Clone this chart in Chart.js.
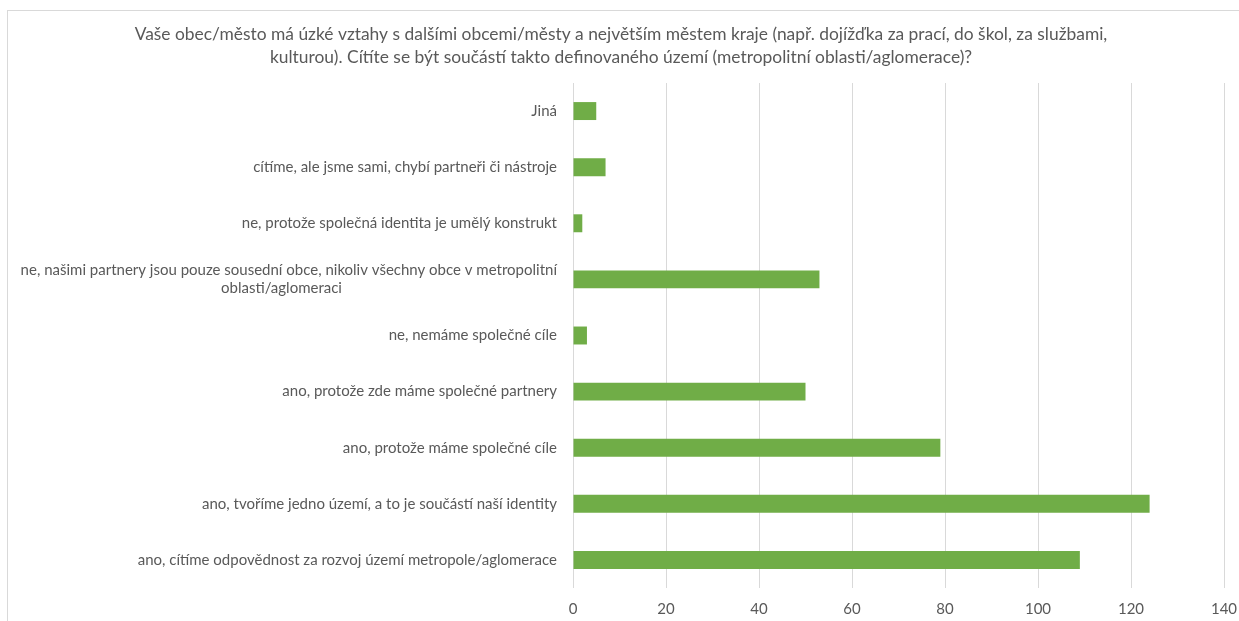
<!DOCTYPE html>
<html>
<head>
<meta charset="utf-8">
<script src="https://cdn.jsdelivr.net/npm/chart.js@4"></script>
<style>
  html, body { margin: 0; padding: 0; background: #ffffff; }
  #wrap { position: relative; width: 1239px; height: 621px; overflow: hidden; }
  #frame { position: absolute; left: 7px; top: 10px; width: 1300px; height: 700px;
           border-left: 1px solid #d9d9d9; border-top: 1px solid #d9d9d9; }
  canvas { position: absolute; left: 0; top: 0; }
</style>
</head>
<body>
<div id="wrap">
  <div id="frame"></div>
  <canvas id="c" width="1239" height="621"></canvas>
</div>
<script>
// Answer categories, top to bottom
const categories = [
  'Jiná',
  'cítíme, ale jsme sami, chybí partneři či nástroje',
  'ne, protože společná identita je umělý konstrukt',
  ['ne, našimi partnery jsou pouze sousední obce, nikoliv všechny obce v metropolitní',
   'oblasti/aglomeraci' + ' '.repeat(56)],
  'ne, nemáme společné cíle',
  'ano, protože zde máme společné partnery',
  'ano, protože máme společné cíle',
  'ano, tvoříme jedno území, a to je součástí naší identity',
  'ano, cítíme odpovědnost za rozvoj území metropole/aglomerace'
];

// Number of responses per category
const responses = [5, 7, 2, 53, 3, 50, 79, 124, 109];

const titleLines = [
  'Vaše obec/město má úzké vztahy s dalšími obcemi/městy a největším městem kraje (např. dojížďka za prací, do škol, za službami,',
  'kulturou). Cítíte se být součástí takto definovaného území (metropolitní oblasti/aglomerace)?'
];

const axisMin = 0, axisMax = 140, axisStep = 20;

const textColor = '#595959';
const gridColor = '#d9d9d9';
const barColor = '#70ad47';
const fontFamily = 'Lato, "Open Sans", sans-serif';

new Chart(document.getElementById('c'), {
  type: 'bar',
  data: {
    labels: categories,
    datasets: [{
      data: responses,
      backgroundColor: barColor,
      borderWidth: 0,
      barPercentage: 0.32,
      categoryPercentage: 1.0
    }]
  },
  options: {
    indexAxis: 'y',
    responsive: false,
    animation: false,
    layout: { padding: { left: 18, right: 15, top: 0, bottom: 4 } },
    plugins: {
      legend: { display: false },
      tooltip: { enabled: false },
      title: {
        display: true,
        text: titleLines,
        color: textColor,
        font: { family: fontFamily, size: 17.4, weight: 'normal', lineHeight: 23 / 17.4 },
        padding: { top: 23, bottom: 14 }
      }
    },
    scales: {
      x: {
        min: axisMin,
        max: axisMax,
        ticks: { stepSize: axisStep, color: textColor, padding: 12,
                 font: { family: fontFamily, size: 15 } },
        grid: { color: gridColor, lineWidth: 1, drawTicks: false },
        border: { display: false },
        afterFit(scale) { scale.height = 29; scale.paddingRight = 15; }
      },
      y: {
        ticks: { color: textColor, padding: 16, autoSkip: false,
                 font: { family: fontFamily, size: 15, lineHeight: 1.2 } },
        grid: { display: false, drawTicks: false },
        border: { display: false },
        afterFit(scale) { scale.width = 555; }
      }
    }
  }
});
</script>
</body>
</html>
